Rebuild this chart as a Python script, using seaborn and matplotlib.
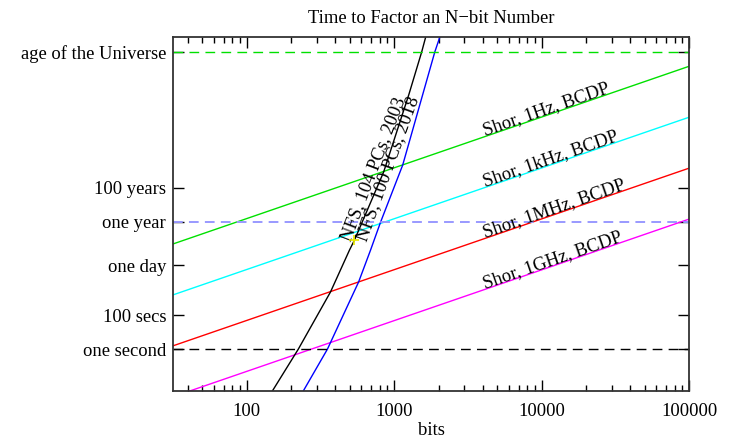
import numpy as np
import pandas as pd
import matplotlib
matplotlib.use('Agg')
import matplotlib.pyplot as plt
import seaborn as sns

# ---- data ----
shor_bits = [31.62, 100000]
shor_1hz = [1.55e6, 4.5e16]
shor_1khz = [1.55e3, 4.5e13]
shor_1mhz = [1.55, 4.5e10]
shor_1ghz = [1.55e-3, 4.5e7]

nfs2003_bits = [149, 224, 370, 498, 538, 849, 1256, 1538, 1637, 1700]
nfs2003_secs = [3.3e-3, 1.0, 2.3e3, 6.8e5, 2.6e6, 2.7e10, 9.3e14, 3.2e17, 2.4e18, 8e18]

nfs2018_bits = [242, 353, 574, 692, 809, 1143, 1888, 2042, 2100]
nfs2018_secs = [3.4e-3, 1.0, 8.9e3, 6.8e5, 3.0e7, 6.9e10, 3.2e17, 2.4e18, 6e18]

marker_bits = [538]
marker_secs = [2.6e6]

ref_names = ['one second', '100 secs', 'one day', 'one year', '100 years', 'age of the Universe']
ref_secs = [1.0, 100.0, 86400.0, 3.156e7, 3.156e9, 3.156e17]

x_ticks = [100, 1000, 10000, 100000]
x_labels = ['100', '1000', '10000', '100000']

# ---- plotting ----
sns.set_style('ticks')
plt.rcParams['font.family'] = ['Liberation Serif', 'DejaVu Serif']
plt.rcParams['text.color'] = 'black'
plt.rcParams['xtick.color'] = 'black'
plt.rcParams['ytick.color'] = 'black'
plt.rcParams['axes.labelcolor'] = 'black'

fs = 13.4
fig = plt.figure(figsize=(7.34, 4.41), dpi=100)
ax = fig.add_axes([173/734, 1 - 391/441, (689-173)/734, (391-37)/441])

shor = pd.DataFrame({'bits': shor_bits * 4,
                     'secs': shor_1hz + shor_1khz + shor_1mhz + shor_1ghz,
                     'series': ['1Hz'] * 2 + ['1kHz'] * 2 + ['1MHz'] * 2 + ['1GHz'] * 2})
shor_colors = {'1Hz': '#00e000', '1kHz': '#00ffff', '1MHz': '#ff0000', '1GHz': '#ff00ff'}
sns.lineplot(data=shor, x='bits', y='secs', hue='series', palette=shor_colors,
             linewidth=1.0, legend=False, ax=ax, sort=False)

nfs = pd.DataFrame({'bits': nfs2003_bits + nfs2018_bits,
                    'secs': nfs2003_secs + nfs2018_secs,
                    'series': ['2003'] * len(nfs2003_bits) + ['2018'] * len(nfs2018_bits)})
sns.lineplot(data=nfs, x='bits', y='secs', hue='series', palette={'2003': 'black', '2018': '#0000ff'},
             linewidth=1.0, legend=False, ax=ax, sort=False)

ax.axhline(ref_secs[0], color='black', ls=(0, (7, 4.5)), lw=1.0)
ax.axhline(ref_secs[3], color='#9999ff', ls=(0, (5, 3.2)), lw=1.4)
ax.axhline(ref_secs[5], color='#00e000', ls=(0, (7, 4.5)), lw=1.0)

sns.scatterplot(x=marker_bits, y=marker_secs, marker='+', color='#e8e800', s=55,
                linewidth=1.2, ax=ax, zorder=5)

ax.set_xscale('log')
ax.set_yscale('log')
ax.set_xlim(10**1.5, 100000)
ax.set_ylim(10**-2.47, 10**18.38)

ax.set_xticks(x_ticks)
ax.set_xticklabels(x_labels)
ax.set_yticks(ref_secs)
ax.set_yticklabels(ref_names)
ax.yaxis.set_minor_locator(matplotlib.ticker.NullLocator())
ax.tick_params(axis='both', which='major', direction='in', length=8, width=1,
               top=True, right=True, labelsize=fs)
ax.tick_params(axis='x', which='major', pad=9)
ax.tick_params(axis='y', which='major', pad=5)
ax.tick_params(axis='x', which='minor', direction='in', length=4, width=1, top=True)
for s in ax.spines.values():
    s.set_linewidth(1.3)
    s.set_color('#333333')

ax.set_xlabel('bits', fontsize=fs, labelpad=1)
ax.set_ylabel('')
ax.set_title('Time to Factor an N\u2212bit Number', fontsize=fs, pad=10)

# line labels
rot = 19.1
for lbl, y0 in [('Shor, 1Hz, BCDP', shor_1hz), ('Shor, 1kHz, BCDP', shor_1khz),
                ('Shor, 1MHz, BCDP', shor_1mhz), ('Shor, 1GHz, BCDP', shor_1ghz)]:
    ax.text(4150, y0[0] * (4150 / shor_bits[0]) ** 3 * 1.15, lbl, fontsize=fs,
            rotation=rot, rotation_mode='anchor', ha='left', va='baseline')

ax.text(505, 2.0e6, 'NFS, 104 PCs, 2003', fontsize=fs, rotation=69,
        rotation_mode='anchor', ha='left', va='baseline')
ax.text(645, 2.0e6, 'NFS, 100 PCs, 2018', fontsize=fs, rotation=70,
        rotation_mode='anchor', ha='left', va='baseline')

fig.savefig('out.png', dpi=100)
